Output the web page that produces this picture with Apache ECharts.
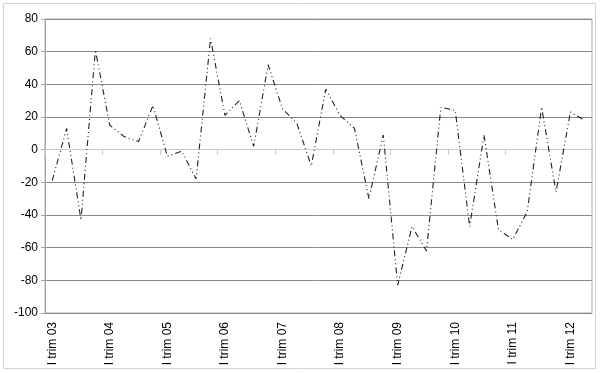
<!DOCTYPE html>
<html>
<head>
<meta charset="utf-8">
<script src="https://cdn.jsdelivr.net/npm/echarts@6/dist/echarts.min.js"></script>
<style>
html,body{margin:0;padding:0;background:#fff;}
#c{width:600px;height:373px;}
</style>
</head>
<body>
<div id="c"></div>
<script>
var years = ['03','04','05','06','07','08','09','10','11','12'];
var quarterNames = ['I','II','III','IV'];
var categories = [];
for (var y = 0; y < years.length; y++) {
  for (var q = 0; q < 4; q++) {
    if (y === years.length - 1 && q > 1) break;
    categories.push(quarterNames[q] + ' trim ' + years[y]);
  }
}
var values = [-19, 13, -43, 61, 15, 8, 5, 27, -4, -1, -18, 68, 21, 30, 2, 52, 25, 16, -10, 37, 21, 13, -30, 9, -83, -47, -62, 26, 24, -47, 9, -49, -55, -38, 26, -26, 23, 18];
var yMin = -100, yMax = 80, yStep = 20;

var chart = echarts.init(document.getElementById('c'), null, {renderer: 'canvas'});
chart.setOption({
  animation: false,
  backgroundColor: '#fff',
  graphic: [{
    type: 'rect',
    shape: {x: 3.5, y: 3.5, width: 592, height: 365},
    style: {fill: 'none', stroke: '#d4d4d4', lineWidth: 1},
    silent: true
  }],
  grid: {left: 45, right: 8, top: 19, bottom: 60, show: true, borderColor: '#a8a8a8', borderWidth: 1, containLabel: false},
  xAxis: [{
    type: 'category',
    data: categories,
    boundaryGap: true,
    position: 'bottom',
    axisLine: {show: false, onZero: false},
    axisTick: {show: false},
    axisLabel: {interval: 3, rotate: 90, fontSize: 12, color: '#000', fontFamily: 'Liberation Sans, Arial, sans-serif', margin: 9}
  }, {
    type: 'category',
    data: categories,
    boundaryGap: true,
    position: 'bottom',
    axisLine: {show: true, onZero: true, lineStyle: {color: '#c8c8c8', width: 1}},
    axisTick: {show: true, interval: 3, length: 5, lineStyle: {color: '#c8c8c8'}},
    axisLabel: {show: false}
  }],
  yAxis: {
    type: 'value',
    min: yMin, max: yMax, interval: yStep,
    axisLine: {show: true, lineStyle: {color: '#a8a8a8'}},
    axisTick: {show: true, length: 4, lineStyle: {color: '#a8a8a8'}},
    axisLabel: {fontSize: 12, color: '#000', fontFamily: 'Liberation Sans, Arial, sans-serif', margin: 7},
    splitLine: {show: true, lineStyle: {color: '#8a8a8a', width: 1}}
  },
  series: [{
    type: 'line',
    data: values,
    xAxisIndex: 0,
    symbol: 'none',
    smooth: false,
    lineStyle: {color: '#222', width: 1.1, type: [6, 3, 1, 3, 1, 3]}
  }]
});
</script>
</body>
</html>
